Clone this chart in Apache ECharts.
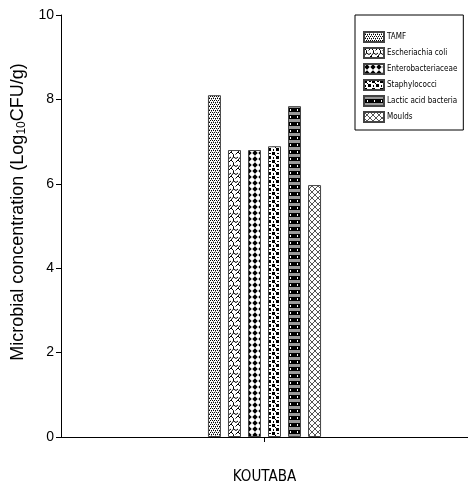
<!DOCTYPE html>
<html><head><meta charset="utf-8">
<script src="https://cdn.jsdelivr.net/npm/echarts@6/dist/echarts.min.js"></script>
<style>html,body{margin:0;padding:0;background:#fff}#c{width:468px;height:493px}</style>
</head><body><div id="c"></div>
<script>
const categories = ['KOUTABA'];
const seriesNames = ['TAMF','Escheriachia coli','Enterobacteriaceae','Staphylococci','Lactic acid bacteria','Moulds'];
const tamf = [8.1];
const ecoli = [6.8];
const entero = [6.8];
const staph = [6.89];
const lab = [7.84];
const moulds = [5.97];
const yTicks = [0,2,4,6,8,10];

function pat(w,h,draw){
  const c=document.createElement('canvas');c.width=w;c.height=h;
  const g=c.getContext('2d');g.fillStyle='#fff';g.fillRect(0,0,w,h);draw(g);
  return {image:c,repeat:'repeat'};
}
const patterns = [
  pat(4,4,g=>{g.fillStyle='#000';[[0,0],[2,0],[1,2],[3,2]].forEach(p=>g.fillRect(p[0],p[1],1,1));g.fillStyle='#888';[[1,1],[3,3]].forEach(p=>g.fillRect(p[0],p[1],1,1));}),
  pat(7,8,g=>{g.strokeStyle='#000';g.lineWidth=1;g.beginPath();g.moveTo(0,0);g.lineTo(2.5,2.5);g.lineTo(2.5,5);g.lineTo(0,8);g.moveTo(7,0);g.lineTo(4.5,2.5);g.moveTo(2.5,5);g.lineTo(5,6.5);g.lineTo(7,5);g.stroke();}),
  pat(6,6,g=>{g.fillStyle='#000';g.beginPath();g.moveTo(3,0.3);g.lineTo(5.7,3);g.lineTo(3,5.7);g.lineTo(0.3,3);g.closePath();g.fill();}),
  pat(8,8,g=>{g.fillStyle='#000';g.fillRect(0,0,3,3);g.fillRect(4,4,3,3);g.fillRect(5,1,2,1);g.fillRect(1,5,1,2);g.fillRect(3,3,1,1);}),
  pat(7,7,g=>{g.fillStyle='#000';g.fillRect(0,0,7,7);g.fillStyle='#999';g.fillRect(0,0,7,3);g.fillStyle='#fff';g.fillRect(3,4,1,2);}),
  pat(6,6,g=>{g.strokeStyle='#555';g.lineWidth=1;g.beginPath();g.moveTo(0,0);g.lineTo(6,6);g.moveTo(6,0);g.lineTo(0,6);g.stroke();})
];
const values = [tamf, ecoli, entero, staph, lab, moulds];

const chart = echarts.init(document.getElementById('c'), null, {renderer:'canvas'});
chart.setOption({
  animation:false,
  backgroundColor:'#fff',
  grid:{left:61,right:0,top:15,bottom:56,containLabel:false},
  legend:{
    orient:'vertical',left:355,top:15,
    padding:[16,6,7,8],itemGap:4,itemWidth:20,itemHeight:10,
    borderColor:'#000',borderWidth:1,
    icon:'rect',
    textStyle:{fontFamily:'Liberation Sans Narrow, DejaVu Sans Condensed, Liberation Sans, Arial, sans-serif',fontSize:8,lineHeight:10,color:'#000',padding:[0,0,0,-2]},
    data:seriesNames
  },
  xAxis:{
    type:'category',data:categories,
    axisLine:{lineStyle:{color:'#000',width:1}},
    axisTick:{show:true,alignWithLabel:true,length:5,lineStyle:{color:'#000'}},
    axisLabel:{margin:33,fontSize:15,color:'#000',fontFamily:'Liberation Sans Narrow, DejaVu Sans Condensed, Liberation Sans, Arial, sans-serif'}
  },
  yAxis:{
    type:'value',min:0,max:10,interval:2,
    name:'Microbial concentration (Log{sub|10}CFU/g)',
    nameLocation:'middle',nameGap:18,
    nameTextStyle:{fontSize:18,color:'#000',fontFamily:'Liberation Sans, Arial, sans-serif',padding:[0,0,0,28],
      rich:{sub:{fontSize:12,verticalAlign:'bottom',padding:[6,0,0,0],color:'#000'}}},
    axisLine:{show:true,lineStyle:{color:'#000',width:1}},
    axisTick:{show:true,length:5,lineStyle:{color:'#000'}},
    axisLabel:{fontSize:14,color:'#000',margin:7,fontFamily:'Liberation Sans, Arial, sans-serif'},
    splitLine:{show:false}
  },
  series: seriesNames.map((n,i)=>({
    name:n,type:'bar',data:values[i],barWidth:13,barGap:'54%',
    itemStyle:{color:patterns[i],borderColor:'#444',borderWidth:1}
  }))
});
</script></body></html>
